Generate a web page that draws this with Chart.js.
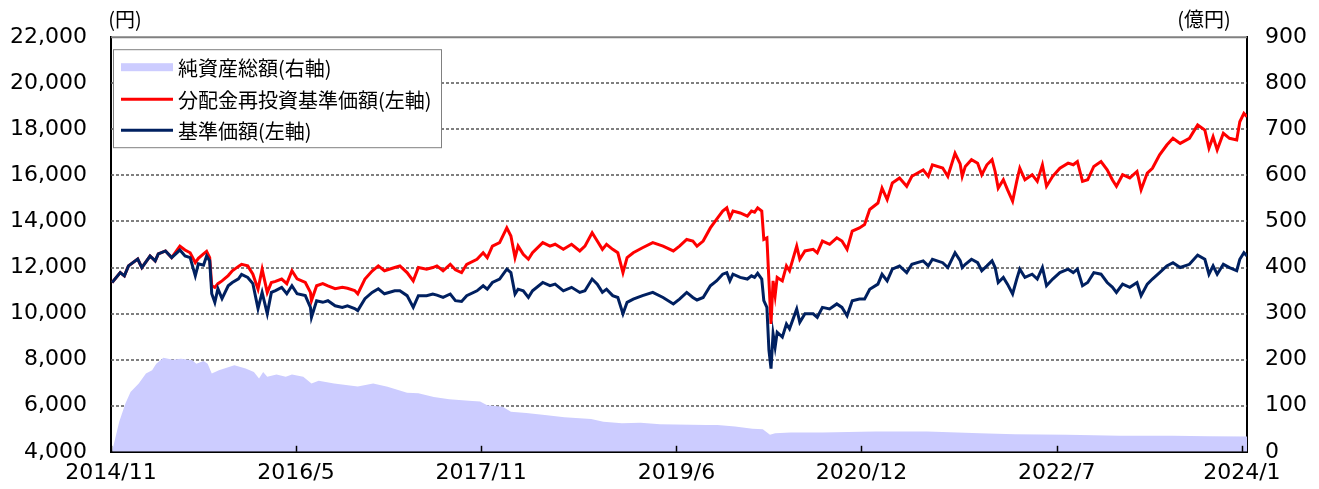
<!DOCTYPE html>
<html lang="ja">
<head>
<meta charset="UTF-8" />
<title>基準価額の推移</title>
<script src="https://cdn.jsdelivr.net/npm/chart.js"></script>
<style>
  html, body { margin: 0; padding: 0; background: #fff; }
  #wrap { width: 1319px; height: 489px; position: relative; }
</style>
</head>
<body>
<div id="wrap"><canvas id="fundChart"></canvas></div>
<script>
// x values: months elapsed since 2014/11
const lineMonths = [
  0.1, 0.9, 1.3, 1.7, 2.6, 3.0, 3.8, 4.3, 4.6, 5.3,
  5.9, 6.7, 7.2, 7.7, 8.2, 8.5, 9.0, 9.3, 9.6, 9.8,
  10.1, 10.4, 10.8, 11.4, 11.8, 12.4, 12.7, 13.3, 13.8, 14.3,
  14.7, 15.2, 15.6, 16.0, 16.6, 17.1, 17.6, 18.1, 18.9, 19.4,
  19.5, 20.0, 20.6, 21.1, 21.8, 22.5, 23.0, 23.7, 24.0, 24.7,
  25.4, 26.0, 26.6, 27.6, 28.1, 28.8, 29.4, 29.9, 30.7, 31.3,
  31.7, 32.3, 33.0, 33.5, 34.1, 34.6, 35.6, 36.2, 36.6, 37.1,
  37.8, 38.5, 38.9, 39.3, 39.6, 40.1, 40.6, 41.0, 42.0, 42.7,
  43.2, 44.0, 44.8, 45.6, 46.1, 46.8, 47.3, 47.8, 48.2, 48.8,
  49.3, 49.8, 50.2, 50.8, 51.7, 52.7, 53.7, 54.7, 55.3, 56.0,
  56.6, 57.0, 57.6, 58.3, 58.9, 59.5, 59.9, 60.2, 60.5, 61.2,
  61.9, 62.3, 62.6, 62.9, 63.3, 63.5, 63.8, 64.0, 64.2, 64.4,
  64.6, 64.8, 65.3, 65.7, 66.0, 66.7, 67.0, 67.5, 68.3, 68.7,
  69.2, 69.9, 70.6, 71.1, 71.6, 72.1, 72.8, 73.3, 73.8, 74.6,
  75.0, 75.5, 76.0, 76.7, 77.4, 77.9, 79.0, 79.5, 79.9, 80.9,
  81.4, 82.1, 82.6, 82.8, 83.1, 83.7, 84.3, 84.7, 85.2, 85.7,
  86.0, 86.3, 86.8, 87.2, 87.7, 88.1, 88.4, 88.9, 89.6, 90.1,
  90.6, 91.0, 91.6, 92.3, 93.1, 93.6, 94.0, 94.5, 95.0, 95.6,
  96.3, 96.9, 97.4, 97.8, 98.4, 99.1, 99.8, 100.2, 100.8, 101.3,
  102.0, 102.7, 103.3, 104.0, 104.9, 105.7, 106.4, 106.8, 107.2, 107.6,
  108.2, 108.8, 109.5, 109.8, 110.2, 110.5
];

// 基準価額 (円)
const navValues = [
  11350, 11780, 11640, 12070, 12370, 12000, 12500, 12290, 12590, 12720,
  12430, 12760, 12500, 12430, 11640, 12160, 12100, 12500, 12290, 10860,
  10490, 11080, 10650, 11210, 11350, 11510, 11700, 11570, 11300, 10220,
  10920, 10000, 10920, 11000, 11140, 10860, 11210, 10860, 10780, 10270,
  9840, 10560, 10490, 10560, 10340, 10270, 10340, 10220, 10130, 10650,
  10920, 11080, 10860, 10990, 10990, 10780, 10270, 10780, 10780, 10850,
  10800, 10700, 10850, 10560, 10530, 10780, 10990, 11210, 11060, 11350,
  11500, 11930, 11780, 10850, 11060, 10990, 10700, 10990, 11350, 11210,
  11280, 10990, 11140, 10920, 10990, 11500, 11280, 10920, 11060, 10780,
  10700, 9990, 10490, 10630, 10780, 10920, 10700, 10420, 10630, 10920,
  10700, 10590, 10700, 11210, 11420, 11710, 11780, 11420, 11710, 11570,
  11500, 11640, 11570, 11750, 11500, 10560, 10270, 8400, 7610, 9120,
  8550, 9190, 8980, 9550, 9340, 10200, 9620, 9990, 9990, 9840,
  10270, 10200, 10420, 10270, 9910, 10560, 10630, 10630, 11060, 11280,
  11710, 11420, 11930, 12070, 11780, 12140, 12290, 12070, 12360, 12210,
  12000, 12640, 12300, 12000, 12140, 12360, 12210, 11860, 12070, 12290,
  12000, 11350, 11570, 11280, 10850, 11500, 11930, 11570, 11710, 11500,
  12000, 11210, 11500, 11780, 11930, 11780, 11930, 11210, 11350, 11780,
  11710, 11350, 11150, 10920, 11280, 11140, 11350, 10780, 11280, 11500,
  11780, 12070, 12210, 12000, 12140, 12540, 12360, 11710, 12070, 11710,
  12140, 12000, 11860, 12360, 12640, 12500
];

// 分配金再投資基準価額 (円)
const reinvestValues = [
  11350, 11780, 11640, 12070, 12370, 12000, 12500, 12290, 12590, 12720,
  12430, 12930, 12760, 12640, 12210, 12400, 12590, 12700, 12430, 11210,
  11140, 11300, 11420, 11650, 11860, 12050, 12140, 12070, 11710, 11060,
  11930, 10920, 11350, 11400, 11500, 11300, 11860, 11510, 11350, 10920,
  10560, 11210, 11300, 11200, 11080, 11140, 11100, 11000, 10860, 11500,
  11850, 12070, 11860, 12000, 12070, 11780, 11420, 12000, 11930, 12000,
  12070, 11860, 12140, 11900, 11780, 12140, 12360, 12640, 12430, 12930,
  13080, 13720, 13370, 12430, 12930, 12570, 12360, 12640, 13080, 12930,
  13010, 12790, 13010, 12720, 12930, 13510, 13150, 12790, 13010, 12790,
  12640, 11780, 12430, 12640, 12860, 13080, 12930, 12720, 12930, 13220,
  13150, 12930, 13150, 13720, 14090, 14450, 14590, 14160, 14450, 14370,
  14230, 14450, 14400, 14590, 14450, 13220, 13290, 11420, 9550, 11420,
  10780, 11570, 11420, 12070, 11860, 12930, 12360, 12720, 12790, 12640,
  13150, 13010, 13290, 13150, 12790, 13580, 13720, 13870, 14520, 14800,
  15450, 14950, 15670, 15890, 15530, 15960, 16240, 15960, 16460, 16320,
  15960, 16960, 16500, 15960, 16390, 16680, 16530, 16030, 16460, 16680,
  16170, 15450, 15810, 15380, 14880, 15740, 16310, 15810, 16030, 15740,
  16460, 15530, 15960, 16310, 16530, 16460, 16600, 15740, 15810, 16390,
  16600, 16240, 15810, 15530, 16030, 15890, 16170, 15380, 16100, 16310,
  16890, 17320, 17610, 17390, 17610, 18190, 17970, 17180, 17680, 17110,
  17830, 17610, 17540, 18330, 18690, 18550
];

// 純資産総額 (億円)
const aumMonths = [
  0.1, 0.8, 1.4, 1.9, 2.7, 3.4, 4.0, 4.4, 5.1, 6.0,
  6.8, 7.9, 8.3, 9.0, 9.4, 9.8, 10.5, 12.0, 13.1, 13.9,
  14.4, 14.8, 15.2, 16.1, 17.0, 17.6, 18.7, 19.5, 20.2, 21.7,
  24.0, 25.5, 26.9, 28.8, 29.9, 31.4, 32.9, 34.8, 35.9, 36.6,
  38.1, 38.9, 40.4, 42.2, 44.1, 46.7, 47.9, 49.7, 51.5, 53.4,
  57.9, 59.0, 60.7, 62.4, 63.4, 64.1, 64.6, 66.1, 69.2, 74.3,
  79.4, 84.5, 87.9, 93.0, 98.1, 103.3, 106.7, 110.5
];
const aumValues = [
  0, 65, 105, 130, 148, 170, 177, 191, 204, 200,
  202, 199, 191, 197, 191, 170, 177, 188, 181, 173,
  159, 173, 163, 168, 163, 168, 163, 148, 154, 148,
  142, 148, 141, 128, 127, 119, 114, 111, 109, 101,
  98, 87, 84, 80, 75, 71, 65, 62, 63, 60,
  58, 58, 55, 50, 49, 37, 40, 42, 42, 44,
  44, 40, 38, 37, 35, 35, 34, 33
];

const xTickMonths = [0, 18, 36, 55, 73, 92, 110];
const xTickLabels = ['2014/11', '2016/5', '2017/11', '2019/6', '2020/12', '2022/7', '2024/1'];
const yLeftGrid = [6000, 8000, 10000, 12000, 14000, 16000, 18000, 20000];

const tickFont = { family: "'DejaVu Sans', 'Noto Sans CJK JP', sans-serif", size: 22 };
const jpFont = "20px 'Noto Sans CJK JP', sans-serif";

const toPoints = (xs, ys) => xs.map((x, i) => ({ x: x, y: ys[i] }));

const decorPlugin = {
    id: 'decor',
    beforeDatasetsDraw(chart) {
        // dotted grey grid lines under the series
        const ctx = chart.ctx;
        const area = chart.chartArea;
        const yScale = chart.scales.y;
        ctx.save();
        ctx.strokeStyle = '#555555';
        ctx.lineWidth = 1.5;
        ctx.setLineDash([3, 2]);
        yLeftGrid.forEach((v) => {
            const py = Math.round(yScale.getPixelForValue(v));
            ctx.beginPath();
            ctx.moveTo(area.left, py);
            ctx.lineTo(area.right, py);
            ctx.stroke();
        });
        ctx.restore();
    },
    afterDraw(chart) {
        const ctx = chart.ctx;
        const area = chart.chartArea;
        const xScale = chart.scales.x;
        ctx.save();

        // top frame line
        ctx.strokeStyle = '#808080';
        ctx.lineWidth = 2;
        ctx.beginPath();
        ctx.moveTo(area.left, area.top);
        ctx.lineTo(area.right, area.top);
        ctx.stroke();

        // inside tick marks on the x axis
        ctx.strokeStyle = '#000';
        ctx.lineWidth = 1.5;
        xTickMonths.forEach((m) => {
            const px = Math.round(xScale.getPixelForValue(m)) + 0.5;
            ctx.beginPath();
            ctx.moveTo(px, area.bottom);
            ctx.lineTo(px, area.bottom - 6);
            ctx.stroke();
        });

        // unit labels
        ctx.fillStyle = '#000';
        ctx.font = jpFont;
        ctx.textAlign = 'center';
        ctx.textBaseline = 'middle';
        ctx.fillText('(円)', area.left + 14, 19);
        ctx.fillText('(億円)', area.right - 43, 19);

        // legend box inside the plot
        const lx = area.left + 2;
        const ly = area.top + 12;
        ctx.fillStyle = '#fff';
        ctx.fillRect(lx, ly, 328, 98);
        ctx.strokeStyle = '#808080';
        ctx.lineWidth = 1;
        ctx.strokeRect(lx + 0.5, ly + 0.5, 328, 98);

        const rows = [18, 50, 81];
        chart.data.datasets.forEach((ds, i) => {
            const cy = ly + rows[i];
            if (ds.fill) {
                ctx.fillStyle = ds.backgroundColor;
                ctx.fillRect(lx + 8, cy - 4, 52, 8);
            } else {
                ctx.strokeStyle = ds.borderColor;
                ctx.lineWidth = 3;
                ctx.beginPath();
                ctx.moveTo(lx + 8, cy);
                ctx.lineTo(lx + 60, cy);
                ctx.stroke();
            }
            ctx.fillStyle = '#000';
            ctx.font = jpFont;
            ctx.textAlign = 'left';
            ctx.textBaseline = 'middle';
            ctx.fillText(ds.label, lx + 65, cy + 1);
        });
        ctx.restore();
    },
};

new Chart(document.getElementById('fundChart'), {
    type: 'line',
    data: {
        datasets: [
            {
                label: '純資産総額(右軸)',
                data: toPoints(aumMonths, aumValues),
                yAxisID: 'y1',
                fill: 'origin',
                backgroundColor: '#ccccff',
                borderWidth: 0,
                pointRadius: 0,
                order: 3,
            },
            {
                label: '分配金再投資基準価額(左軸)',
                data: toPoints(lineMonths, reinvestValues),
                yAxisID: 'y',
                fill: false,
                borderColor: '#ff0000',
                borderWidth: 3,
                pointRadius: 0,
                order: 2,
            },
            {
                label: '基準価額(左軸)',
                data: toPoints(lineMonths, navValues),
                yAxisID: 'y',
                fill: false,
                borderColor: '#002060',
                borderWidth: 3,
                pointRadius: 0,
                order: 1,
            },
        ],
    },
    options: {
        responsive: true,
        maintainAspectRatio: false,
        animation: false,
        layout: { padding: { top: 35, left: 0, right: 0, bottom: 0 } },
        plugins: {
            legend: { display: false },
            tooltip: { enabled: false },
        },
        scales: {
            x: {
                type: 'linear',
                min: 0,
                max: 110.5,
                afterBuildTicks: (scale) => {
                    scale.ticks = xTickMonths.map((v) => ({ value: v }));
                },
                afterFit: (scale) => {
                    scale.height = 37;
                },
                grid: { drawOnChartArea: false, drawTicks: false },
                border: { display: true, color: '#000', width: 2 },
                ticks: {
                    autoSkip: false,
                    maxRotation: 0,
                    padding: 8,
                    color: '#000',
                    font: tickFont,
                    callback: (v) => {
                        const i = xTickMonths.indexOf(v);
                        return i >= 0 ? xTickLabels[i] : '';
                    },
                },
            },
            y: {
                position: 'left',
                min: 4000,
                max: 22000,
                afterFit: (scale) => {
                    scale.width = 111;
                },
                ticks: {
                    stepSize: 2000,
                    padding: 24,
                    color: '#000',
                    font: tickFont,
                    callback: (v) => v.toLocaleString('en-US'),
                },
                grid: { drawOnChartArea: false, drawTicks: false },
                border: { display: true, color: '#000', width: 2 },
            },
            y1: {
                position: 'right',
                min: 0,
                max: 900,
                afterFit: (scale) => {
                    scale.width = 72;
                },
                ticks: {
                    stepSize: 100,
                    padding: 18,
                    color: '#000',
                    font: tickFont,
                },
                grid: { drawOnChartArea: false, drawTicks: false },
                border: { display: true, color: '#000', width: 2 },
            },
        },
    },
    plugins: [decorPlugin],
});
</script>
</body>
</html>
